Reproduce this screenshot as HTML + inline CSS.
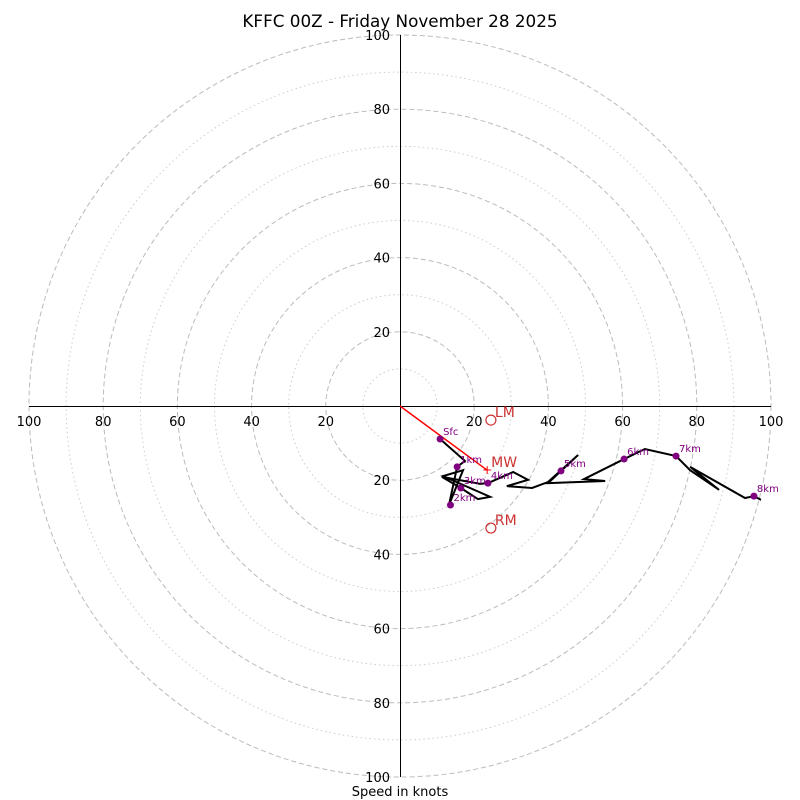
<!DOCTYPE html>
<html><head><meta charset="utf-8"><style>
body{margin:0;background:#fff;}
svg{display:block;font-family:"DejaVu Sans","Liberation Sans",sans-serif;}
</style></head><body>
<svg id="chart" width="800" height="800" viewBox="0 0 800 800">
<text x="400" y="27" text-anchor="middle" font-size="16.8">KFFC 00Z - Friday November 28 2025</text>
<text x="400" y="796" text-anchor="middle" font-size="13">Speed in knots</text>
<defs><clipPath id="clip"><circle cx="400" cy="406" r="373"/></clipPath></defs>
<g id="rings"></g><g id="axes"></g><g id="trace" clip-path="url(#clip)"></g><g id="marks"></g>
</svg>
<script>
const ringDashed=[20,40,60,80,100];
const ringDotted=[10,30,50,70,90];
const tickLabels=[20,40,60,80,100];
const traceU=[10.8,17.5,15.4,13.2,17.0,11.6,24.3,21.0,16.4,11.3,21.6,23.7,30.5,34.5,28.8,35.6,39.9,48.0,39.9,55.3,49.6,60.4,66.0,74.4,78.2,86.0,78.2,93.0,95.4,100,98.1,100];
const traceV=[-8.9,-14.8,-16.4,-26.7,-17.3,-18.9,-24.5,-25.1,-22.1,-19.1,-21.0,-20.8,-17.8,-19.9,-21.6,-22.1,-20.5,-13.2,-20.8,-20.2,-19.7,-14.3,-11.6,-13.5,-17.3,-22.6,-16.4,-24.8,-24.3,-26.7,-26.7,-30.7];
const levelNames=["Sfc","1km","2km","3km","4km","5km","6km","7km","8km"];
const levelU=[10.8,15.4,13.6,16.4,23.7,43.4,60.4,74.4,95.4];
const levelV=[-8.9,-16.4,-26.7,-22.1,-20.8,-17.5,-14.3,-13.5,-24.3];
const motionNames=["LM","MW","RM"];
const motionU=[24.5,23.5,24.5];
const motionV=[-3.8,-17.3,-32.9];
const cx=400,cy=406,k=3.71;
const X=u=>cx+u*k, Y=v=>cy-v*k;
const NS="http://www.w3.org/2000/svg";
function mk(tag,parent,attrs){const e=document.createElementNS(NS,tag);for(const a in attrs)e.setAttribute(a,attrs[a]);document.getElementById(parent).appendChild(e);return e;}
ringDotted.forEach(r=>{const e=mk('circle','rings',{cx:cx,cy:cy,r:r*k,fill:'none',stroke:'#ccc','stroke-dasharray':'1.5,3'});

});
ringDashed.forEach(r=>{const e=mk('circle','rings',{cx:cx,cy:cy,r:r*k,fill:'none',stroke:'#bbb','stroke-dasharray':'5,3'});

});
let ax=mk('line','axes',{x1:X(-100),y1:cy+0.5,x2:X(100),y2:cy+0.5,stroke:'#000'});


let ay=mk('line','axes',{x1:cx+0.5,y1:Y(100),x2:cx+0.5,y2:Y(-100),stroke:'#000'});


tickLabels.forEach(t=>{[-1,1].forEach(s=>{
 let e=mk('text','axes',{x:X(s*t),y:cy+20,'text-anchor':'middle','font-size':13});e.textContent=t;
 
 
 let f=mk('text','axes',{x:cx-10,y:Y(s*t)+5,'text-anchor':'end','font-size':13});f.textContent=t;
 
 
});});
let pts=traceU.map((u,i)=>X(u)+','+Y(traceV[i])).join(' ');
let tl=mk('polyline','trace',{points:pts,fill:'none',stroke:'#000','stroke-width':2});


let ml=mk('line','marks',{x1:cx,y1:cy,x2:X(motionU[1]),y2:Y(motionV[1]),stroke:'red','stroke-width':1.5});


levelNames.forEach((n,i)=>{
 let c=mk('circle','marks',{cx:X(levelU[i]),cy:Y(levelV[i]),r:3.5,fill:'purple'});
 
 
 let t=mk('text','marks',{x:X(levelU[i])+3,y:Y(levelV[i])-4,'font-size':10,fill:'purple'});t.textContent=n;
 
 
});
motionNames.forEach((n,i)=>{
 const x=X(motionU[i]),y=Y(motionV[i]);
 if(n==='MW'){let p=mk('text','marks',{x:x,y:y+4,'font-size':12,fill:'red','text-anchor':'middle'});p.textContent='+';
  
  }
 else{let c=mk('circle','marks',{cx:x,cy:y,r:5,fill:'none',stroke:'#c33','stroke-width':1.2});
  
  }
 let t=mk('text','marks',{x:x+4,y:y-3,'font-size':14,fill:'#c33'});t.textContent=n;
 
 
});
</script>
</body></html>
